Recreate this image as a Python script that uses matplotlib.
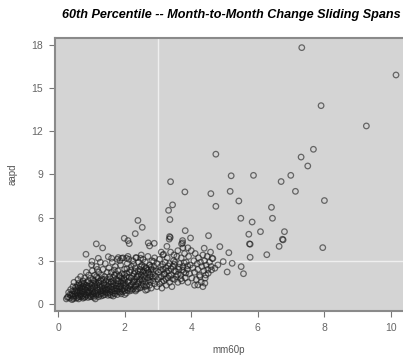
import matplotlib
matplotlib.use("Agg")
import matplotlib.pyplot as plt

plt.rcParams['font.family'] = ['Liberation Sans', 'DejaVu Sans']

# outlying / sparse points
out_x = [7.32, 10.15, 7.90, 9.26, 4.74, 7.67, 7.30, 7.50, 5.20, 5.87, 6.99, 6.70,
         5.17, 7.13, 4.59, 5.43, 8.00, 4.74, 6.41, 6.44, 5.49, 5.83, 6.08, 6.80,
         5.73, 4.52, 6.74, 6.76, 5.75, 5.77, 6.64, 7.95, 4.86, 4.39, 5.13, 6.27,
         5.77, 4.63, 4.65, 5.23, 5.50, 5.08, 5.57, 4.96, 4.80, 4.71, 4.61, 4.51,
         4.44, 4.41, 4.26, 3.38, 3.81, 3.44, 3.32, 3.36, 2.40, 2.53, 2.32, 3.82,
         3.35, 3.37, 3.98, 1.99, 2.10, 2.14, 1.15, 1.34, 0.84, 2.71, 2.75, 2.89,
         3.74, 3.71, 3.17, 1.02, 4.20, 3.34, 3.74, 1.21, 1.51, 1.61, 1.81, 1.91,
         2.06, 2.34, 2.48, 1.01]
out_y = [17.8, 15.9, 13.77, 12.36, 10.4, 10.74, 10.2, 9.58, 8.9, 8.93, 8.93, 8.5,
         7.82, 7.82, 7.66, 7.15, 7.18, 6.78, 6.71, 5.95, 5.95, 5.69, 5.02, 5.02,
         4.84, 4.74, 4.49, 4.45, 4.17, 4.15, 4.0, 3.91, 3.98, 3.87, 3.56, 3.42,
         3.24, 3.17, 3.15, 2.82, 2.59, 2.22, 2.1, 2.94, 2.71, 2.48, 2.36, 2.13,
         2.01, 1.44, 1.9, 8.49, 7.78, 6.88, 6.5, 5.86, 5.8, 5.32, 4.88, 5.09,
         4.68, 4.62, 4.58, 4.56, 4.4, 4.19, 4.17, 3.89, 3.45, 4.24, 4.03, 4.21,
         4.4, 4.17, 3.45, 2.96, 1.32, 4.5, 4.24, 3.17, 3.28, 3.17, 3.22, 3.17,
         3.17, 3.22, 3.17, 2.71]

# dense cloud, estimated band by band
cloud_x = [0.25, 0.30, 0.32, 0.35, 0.38, 0.40, 0.42, 0.45, 0.47, 0.50, 0.50, 0.48, 0.45, 0.36, 0.28,
           0.55, 0.55, 0.58, 0.60, 0.60, 0.62, 0.65, 0.65, 0.68, 0.70, 0.70, 0.72, 0.75, 0.75, 0.75,
           0.78, 0.80, 0.80, 0.82, 0.85, 0.85, 0.88, 0.90, 0.90, 0.90, 0.92, 0.95, 0.95, 0.97, 0.98,
           0.60, 0.68, 0.73, 0.83, 0.87, 0.93, 0.78, 0.63, 0.57,
           1.00, 1.00, 1.02, 1.03, 1.05, 1.05, 1.08, 1.10, 1.10, 1.12, 1.13, 1.15, 1.15, 1.18, 1.20,
           1.20, 1.22, 1.22, 1.25, 1.25, 1.28, 1.28, 1.30, 1.30, 1.32, 1.35, 1.35, 1.38, 1.40, 1.40,
           1.40, 1.42, 1.45, 1.45, 1.47, 1.48, 1.50, 1.50, 1.03, 1.07, 1.17, 1.23, 1.33, 1.37, 1.43,
           1.12, 1.27, 1.18,
           1.52, 1.53, 1.55, 1.55, 1.58, 1.60, 1.60, 1.62, 1.63, 1.65, 1.67, 1.68, 1.70, 1.72, 1.72,
           1.75, 1.75, 1.78, 1.78, 1.80, 1.80, 1.82, 1.85, 1.85, 1.88, 1.90, 1.90, 1.92, 1.93, 1.95,
           1.97, 1.98, 2.00, 2.00, 1.57, 1.64, 1.69, 1.76, 1.83, 1.87, 1.94, 1.99, 1.66, 1.86,
           2.02, 2.05, 2.05, 2.08, 2.10, 2.10, 2.12, 2.15, 2.15, 2.18, 2.20, 2.20, 2.22, 2.25, 2.25,
           2.28, 2.30, 2.30, 2.32, 2.35, 2.35, 2.38, 2.40, 2.40, 2.42, 2.45, 2.45, 2.48, 2.50, 2.50,
           2.50, 2.07, 2.17, 2.27, 2.37, 2.47, 2.13, 2.33, 2.00,
           2.52, 2.55, 2.55, 2.58, 2.60, 2.60, 2.62, 2.65, 2.65, 2.68, 2.70, 2.70, 2.72, 2.75, 2.75,
           2.78, 2.80, 2.80, 2.82, 2.85, 2.85, 2.88, 2.90, 2.90, 2.92, 2.95, 2.97, 2.98, 3.00, 2.57,
           2.67, 2.77, 2.87, 2.63,
           3.02, 3.05, 3.05, 3.08, 3.10, 3.12, 3.15, 3.15, 3.18, 3.20, 3.22, 3.25, 3.25, 3.28, 3.30,
           3.32, 3.35, 3.35, 3.38, 3.40, 3.42, 3.45, 3.47, 3.50, 3.50, 3.10, 3.27, 3.48,
           3.52, 3.55, 3.57, 3.60, 3.62, 3.65, 3.68, 3.70, 3.72, 3.75, 3.78, 3.80, 3.82, 3.85, 3.88,
           3.90, 3.92, 3.95, 3.97, 4.00, 3.60, 3.75, 3.90,
           4.02, 4.05, 4.08, 4.10, 4.12, 4.15, 4.18, 4.20, 4.22, 4.25, 4.28, 4.30, 4.32, 4.35, 4.38,
           4.40, 4.42, 4.45, 4.48, 4.50, 4.55, 4.58, 4.60, 4.10, 4.35]
cloud_y = [0.35, 0.50, 0.80, 0.40, 1.00, 0.60, 0.30, 1.20, 0.45, 0.70, 0.90, 1.50, 0.55, 0.65, 0.45,
           0.40, 1.00, 1.30, 0.60, 1.70, 0.35, 0.80, 1.10, 1.90, 0.50, 1.40, 0.90, 0.40, 1.20, 1.60,
           0.70, 1.00, 1.80, 0.50, 1.30, 2.20, 0.80, 0.45, 1.10, 1.60, 2.00, 0.60, 0.90, 1.40, 1.80,
           0.90, 0.60, 1.05, 0.65, 1.50, 0.75, 1.35, 1.45, 0.75,
           0.50, 1.00, 1.30, 2.30, 0.70, 1.70, 0.45, 1.20, 2.00, 0.90, 1.50, 0.60, 2.60, 1.10, 0.80,
           1.80, 0.50, 2.20, 1.30, 1.00, 0.70, 1.60, 2.00, 0.55, 1.20, 0.90, 2.40, 1.45, 0.65, 1.10,
           1.90, 2.80, 0.80, 1.30, 1.70, 2.20, 0.60, 1.00, 0.85, 1.45, 1.35, 1.55, 0.75, 1.70, 1.00,
           0.35, 2.90, 2.40,
           1.50, 2.50, 0.80, 1.90, 1.20, 0.60, 2.20, 1.00, 2.90, 1.60, 0.75, 1.30, 2.00, 0.90, 2.60,
           1.10, 1.70, 0.65, 3.10, 1.40, 2.30, 0.85, 1.20, 1.90, 2.70, 0.70, 1.50, 1.00, 2.10, 3.20,
           1.30, 1.75, 0.90, 2.40, 1.75, 1.40, 2.35, 1.25, 1.60, 1.05, 1.60, 2.05, 0.55, 3.00,
           1.40, 0.75, 1.90, 2.80, 1.10, 3.30, 1.60, 2.20, 0.90, 1.30, 2.60, 1.80, 0.95, 1.50, 3.00,
           2.10, 1.20, 1.70, 2.50, 1.00, 3.20, 1.90, 1.40, 2.30, 2.90, 1.10, 1.70, 2.60, 1.30, 2.00,
           3.40, 2.45, 1.05, 2.75, 1.55, 2.25, 3.10, 0.90, 0.65,
           2.70, 1.60, 3.10, 2.30, 1.20, 2.00, 2.90, 1.50, 2.50, 1.00, 1.80, 3.30, 2.20, 1.30, 2.70,
           1.90, 1.10, 2.40, 3.00, 1.60, 2.10, 2.60, 1.40, 3.20, 1.90, 2.30, 1.20, 2.80, 1.70, 1.90,
           2.45, 1.55, 2.95, 0.95,
           2.20, 1.40, 3.10, 2.60, 1.90, 1.10, 2.40, 3.40, 1.60, 2.10, 2.90, 1.30, 2.50, 3.20, 1.80,
           2.30, 1.50, 2.80, 3.60, 2.00, 1.20, 2.60, 3.00, 1.70, 2.30, 3.60, 4.00, 3.40,
           2.90, 1.90, 3.30, 1.50, 2.40, 2.80, 2.00, 3.20, 1.60, 2.60, 2.20, 3.50, 1.80, 2.90, 2.40,
           1.50, 3.30, 2.10, 2.70, 3.70, 3.70, 3.90, 3.90,
           1.80, 2.50, 3.00, 2.20, 3.50, 1.70, 2.80, 2.40, 3.20, 2.00, 2.90, 1.50, 2.60, 3.40, 2.30,
           3.00, 1.80, 2.70, 3.30, 2.40, 2.90, 3.60, 2.60, 1.30, 1.20]

# extra points filling the dark core of the cloud
core_x = [0.42, 0.44, 0.46, 0.52, 0.53, 0.56, 0.59, 0.61, 0.64, 0.66, 0.67, 0.69, 0.71, 0.74, 0.76,
          0.77, 0.79, 0.81, 0.84, 0.86, 0.89, 0.91, 0.94, 0.96, 0.99,
          1.01, 1.04, 1.06, 1.08, 1.09, 1.11, 1.14, 1.16, 1.19, 1.21, 1.24, 1.26, 1.29, 1.31, 1.34,
          1.36, 1.39, 1.41, 1.44, 1.46, 1.49, 1.51, 1.54, 1.56, 1.59,
          1.61, 1.63, 1.66, 1.68, 1.71, 1.73, 1.74, 1.77, 1.79, 1.81, 1.84, 1.86, 1.89, 1.91, 1.94,
          1.96, 1.99, 2.01, 2.04, 2.06, 2.09, 2.11, 2.14, 2.16, 2.19,
          2.21, 2.24, 2.26, 2.29, 2.31, 2.34, 2.36, 2.39, 2.41, 2.44, 2.46, 2.49, 2.51, 2.54, 2.56,
          2.59, 2.61, 2.64, 2.66, 2.69, 2.73, 2.76, 2.79, 2.83, 2.86,
          3.03, 3.07, 3.11, 3.14, 3.19, 3.23, 3.26, 3.31, 3.34, 3.39, 3.44, 3.49, 3.54, 3.59, 3.64,
          3.69, 3.74, 3.79, 3.84, 3.89]
core_y = [0.70, 0.90, 0.35, 0.55, 1.15, 0.85, 0.45, 1.20, 0.50, 0.95, 1.30, 0.70, 1.15, 0.55, 0.85,
          1.45, 0.45, 1.15, 0.95, 0.60, 1.25, 0.85, 1.20, 0.50, 1.10,
          0.65, 1.10, 0.55, 1.60, 0.80, 1.35, 0.70, 1.90, 0.95, 1.45, 0.65, 1.15, 0.90, 1.75, 1.05,
          0.60, 1.30, 0.85, 1.55, 1.05, 0.75, 1.25, 1.05, 0.65, 1.50,
          0.85, 1.20, 1.85, 1.05, 0.70, 1.45, 2.10, 0.90, 1.60, 1.05, 2.00, 0.80, 1.25, 1.80, 0.85,
          1.45, 1.10, 1.65, 1.20, 2.15, 0.95, 1.50, 1.85, 1.20, 2.35,
          1.35, 1.95, 1.05, 1.55, 2.25, 1.30, 1.85, 1.05, 2.05, 1.55, 2.40, 1.15, 1.75, 2.20, 1.35,
          2.60, 1.75, 2.15, 1.25, 2.35, 1.65, 2.05, 2.55, 1.85, 2.35,
          1.85, 2.35, 1.55, 2.75, 2.05, 1.75, 2.25, 2.65, 1.95, 2.45, 1.75, 2.75, 2.25, 2.05, 2.55,
          1.75, 2.35, 2.85, 2.15, 2.65]

x_vals = out_x + cloud_x + core_x
y_vals = out_y + cloud_y + core_y

x_ticks = [0, 2, 4, 6, 8, 10]
y_ticks = [0, 3, 6, 9, 12, 15, 18]
ref_x = 3
ref_y = 3

fig = plt.figure(figsize=(4.03, 3.58), dpi=100)
ax = fig.add_axes([0.1365, 0.1313, 0.8635, 0.7626], facecolor='#d4d4d4')

ax.axvline(ref_x, color='#efefef', lw=1, zorder=1)
ax.axhline(ref_y, color='#efefef', lw=1, zorder=1)
ax.scatter(x_vals, y_vals, s=16, facecolors='none', edgecolors='#1a1a1a',
           linewidths=0.9, alpha=0.6, zorder=2)

ax.set_xlim(-0.09, 10.36)
ax.set_ylim(-0.49, 18.47)
ax.set_xticks(x_ticks)
ax.set_yticks(y_ticks)

for side in ['left', 'bottom', 'top']:
    ax.spines[side].set_color('#8a8a8a')
    ax.spines[side].set_linewidth(1.5)
ax.spines['right'].set_visible(False)
ax.tick_params(direction='out', length=4.5, width=0.8, color='#777777',
               labelcolor='#666666', labelsize=7.5, pad=4)

ax.set_xlabel('mm60p', fontsize=7, color='#555555', labelpad=9)
ax.set_ylabel('aapd', fontsize=7, color='#555555', labelpad=10)
fig.text(0.574, 0.957, '60th Percentile -- Month-to-Month Change Sliding Spans',
         ha='center', va='center', fontsize=9.1, fontweight='bold', style='italic')

fig.savefig('out.png', dpi=100)
